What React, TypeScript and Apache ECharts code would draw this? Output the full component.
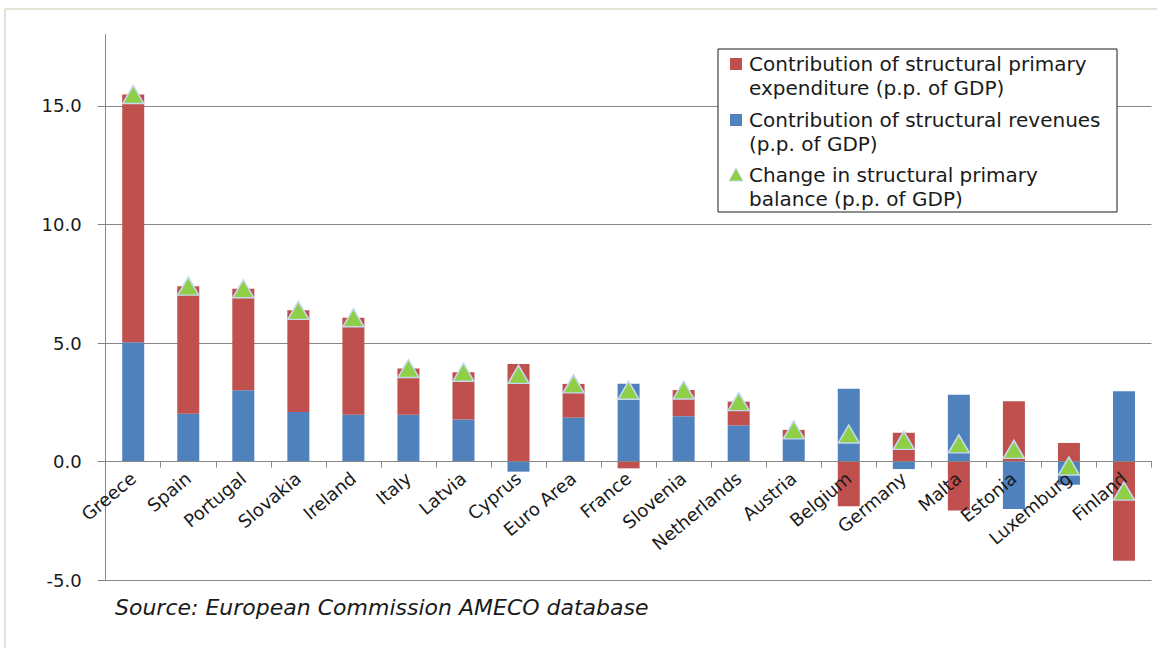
import React, { useEffect, useRef } from "react";
import * as echarts from "echarts";

const categories = [
  "Greece", "Spain", "Portugal", "Slovakia", "Ireland", "Italy", "Latvia", "Cyprus",
  "Euro Area", "France", "Slovenia", "Netherlands", "Austria", "Belgium", "Germany",
  "Malta", "Estonia", "Luxemburg", "Finland",
];
const revenues = [5.04, 2.02, 3.01, 2.09, 1.98, 1.98, 1.78, -0.42, 1.86, 3.29, 1.92, 1.53, 0.97, 3.08, -0.31, 2.82, -1.99, -0.97, 2.97];
const expenditure = [10.44, 5.38, 4.28, 4.29, 4.09, 1.95, 1.99, 4.12, 1.42, -0.28, 1.1, 1.0, 0.37, -1.88, 1.22, -2.06, 2.55, 0.79, -4.18];
const balance = [15.48, 7.4, 7.29, 6.38, 6.07, 3.93, 3.77, 3.68, 3.28, 3.01, 3.02, 2.53, 1.34, 1.17, 0.9, 0.75, 0.52, -0.18, -1.24];
const yTicks = [-5, 0, 5, 10, 15];
const gridValues = [-5, 5, 10, 15];
const legendLabels = [
  "Contribution of structural primary\nexpenditure (p.p. of GDP)",
  "Contribution of structural revenues\n(p.p. of GDP)",
  "Change in structural primary\nbalance (p.p. of GDP)",
];
const sourceText = "Source: European Commission AMECO database";

const RED = "#c0504d";
const BLUE = "#4f81bd";
const GREEN = "#8fcf48";
const GREEN_BORDER = "#c6d9f1";
const AXIS = "#878787";
const FONT = "DejaVu Sans";

const Y_MIN = -5;
const Y_MAX = 18;
const GRID_TOP = 34.7;
const GRID_BOTTOM = 67.7;
const CHART_H = 648;

export default function App() {
  const ref = useRef<HTMLDivElement>(null);
  useEffect(() => {
    const chart = echarts.init(ref.current as HTMLDivElement, null, { renderer: "svg" });
    const plotH = CHART_H - GRID_TOP - GRID_BOTTOM;
    // move the category axis from the bottom edge (-5) up to the zero line
    const zeroOffset = -(plotH * (0 - Y_MIN)) / (Y_MAX - Y_MIN);
    const legendText = (text: string, y: number) => ({
      type: "text",
      x: 749,
      y,
      z: 101,
      style: {
        text,
        fontFamily: FONT,
        fontSize: 20,
        lineHeight: 24,
        fill: "#1a1a1a",
        verticalAlign: "top",
        align: "left",
      },
    });
    const option: any = {
      animation: false,
      backgroundColor: "#ffffff",
      textStyle: { fontFamily: FONT },
      grid: {
        left: 105.7,
        right: 5.5,
        top: GRID_TOP,
        bottom: GRID_BOTTOM,
        containLabel: false,
        outerBoundsMode: "none",
      },
      xAxis: {
        type: "category",
        data: categories,
        position: "bottom",
        offset: zeroOffset,
        z: 3,
        axisLine: { onZero: false, lineStyle: { color: AXIS, width: 1 } },
        axisTick: { show: true, length: 6, lineStyle: { color: AXIS } },
        axisLabel: {
          rotate: 40,
          interval: 0,
          margin: 14,
          fontSize: 18,
          color: "#1a1a1a",
          fontFamily: FONT,
        },
        splitLine: { show: false },
      },
      yAxis: {
        type: "value",
        min: Y_MIN,
        max: Y_MAX,
        interval: 5,
        axisLine: { show: true, lineStyle: { color: AXIS, width: 1 } },
        axisTick: { show: true, length: 8, customValues: yTicks, lineStyle: { color: AXIS } },
        axisLabel: {
          customValues: yTicks,
          formatter: (v: number) => (yTicks.indexOf(v) >= 0 ? v.toFixed(1) : ""),
          margin: 24,
          fontSize: 18,
          color: "#1a1a1a",
          fontFamily: FONT,
        },
        splitLine: { show: false },
      },
      series: [
        {
          name: legendLabels[1],
          type: "bar",
          stack: "total",
          data: revenues,
          barWidth: 22,
          itemStyle: { color: BLUE },
          z: 2,
          markLine: {
            silent: true,
            symbol: "none",
            z: 1,
            animation: false,
            label: { show: false },
            lineStyle: { color: AXIS, type: "solid", width: 1 },
            data: gridValues.map((v) => ({ yAxis: v })),
          },
        },
        {
          name: legendLabels[0],
          type: "bar",
          stack: "total",
          data: expenditure,
          barWidth: 22,
          itemStyle: { color: RED },
          z: 2,
        },
        {
          name: legendLabels[2],
          type: "scatter",
          data: balance,
          symbol: "triangle",
          symbolSize: [21, 18],
          itemStyle: { color: GREEN, borderColor: GREEN_BORDER, borderWidth: 1.5, opacity: 1 },
          z: 5,
        },
      ],
      graphic: [
        { type: "line", shape: { x1: 5, y1: 9, x2: 1157, y2: 9 }, style: { stroke: "#e4e2d5", lineWidth: 2 }, z: 0 },
        { type: "line", shape: { x1: 5, y1: 9, x2: 5, y2: 648 }, style: { stroke: "#e4e2d5", lineWidth: 2 }, z: 0 },
        {
          type: "rect",
          shape: { x: 718, y: 49, width: 399, height: 163 },
          style: { fill: "#ffffff", stroke: "#1a1a1a", lineWidth: 1 },
          z: 100,
        },
        { type: "rect", shape: { x: 730, y: 58, width: 12, height: 12 }, style: { fill: RED }, z: 101 },
        { type: "rect", shape: { x: 730, y: 114, width: 12, height: 12 }, style: { fill: BLUE }, z: 101 },
        {
          type: "polygon",
          shape: { points: [[736, 168], [729, 181], [743, 181]] },
          style: { fill: GREEN, stroke: GREEN_BORDER, lineWidth: 1 },
          z: 101,
        },
        legendText(legendLabels[0], 52),
        legendText(legendLabels[1], 108),
        legendText(legendLabels[2], 163),
        {
          type: "text",
          x: 115,
          y: 607,
          z: 101,
          style: {
            text: sourceText,
            fontFamily: FONT,
            fontStyle: "italic",
            fontSize: 22,
            fill: "#1a1a1a",
            verticalAlign: "middle",
            align: "left",
          },
        },
      ],
    };
    chart.setOption(option);
    return () => chart.dispose();
  }, []);
  return (
    <div
      ref={ref}
      style={{ position: "absolute", left: 0, top: 0, width: 1157, height: 648, background: "#fff" }}
    />
  );
}
